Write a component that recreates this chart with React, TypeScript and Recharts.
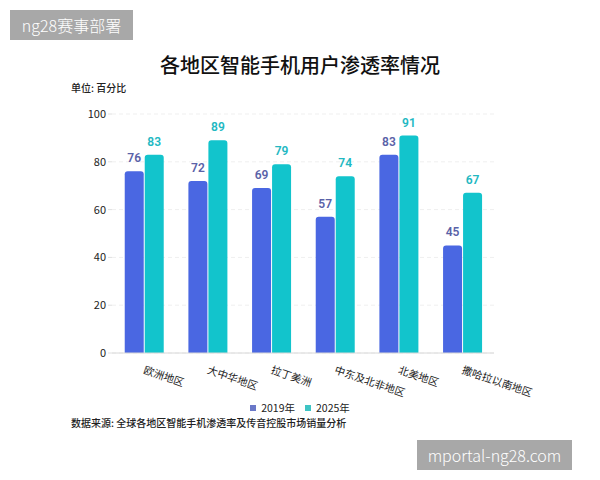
import React from 'react';
import { BarChart, Bar, XAxis, YAxis, CartesianGrid, LabelList } from 'recharts';

const regions = ['欧洲地区', '大中华地区', '拉丁美洲', '中东及北非地区', '北美地区', '撒哈拉以南地区'];
const values2019 = [76, 72, 69, 57, 83, 45];
const values2025 = [83, 89, 79, 74, 91, 67];
const yTicks = [0, 20, 40, 60, 80, 100];
const seriesNames = ['2019年', '2025年'];
const seriesColors = ['#4a67e2', '#12c4cc'];

const data = regions.map((name, i) => ({ name, y2019: values2019[i], y2025: values2025[i] }));

const FONT = '"Noto Sans CJK SC", "Noto Sans", sans-serif';

const AngledTick = (props: any) => {
  const { x, y, payload } = props;
  return (
    <g transform={`translate(${x - 1},${y + 12})`}>
      <text x={0} y={0} textAnchor="start" fontSize={10.5} fill="#222" transform="rotate(19)" fontFamily={FONT}>
        {payload.value}
      </text>
    </g>
  );
};

export default function App() {
  return (
    <div style={{ position: 'absolute', left: 0, top: 0, width: 600, height: 480, background: '#fff', fontFamily: FONT }}>
      <div style={{ position: 'absolute', left: 10, top: 10, width: 123, height: 30, background: '#a8a8a8', color: '#fff', fontSize: 16, fontWeight: 300, lineHeight: '30px', textAlign: 'center' }}>
        ng28赛事部署
      </div>
      <div style={{ position: 'absolute', left: 0, top: 50, width: 600, textAlign: 'center', fontSize: 20, fontWeight: 500, color: '#111' }}>
        各地区智能手机用户渗透率情况
      </div>
      <div style={{ position: 'absolute', left: 71, top: 80, fontSize: 10, fontWeight: 500, color: '#222' }}>单位: 百分比</div>
      <BarChart width={600} height={480} data={data} margin={{ top: 114, right: 106, bottom: 87, left: 0 }} barGap={1} barCategoryGap="20%">
        <CartesianGrid vertical={false} stroke="#efefef" strokeDasharray="4 3" />
        <XAxis dataKey="name" interval={0} height={40} tick={<AngledTick />} tickLine={false} axisLine={{ stroke: '#d8d8d8' }} />
        <YAxis domain={[0, 100]} ticks={yTicks} width={112} axisLine={false} tickLine={{ stroke: '#e0e0e0' }} tickSize={4} tick={{ fontSize: 11, fill: '#222', fontFamily: FONT }} />
        <Bar dataKey="y2019" name={seriesNames[0]} fill={seriesColors[0]} radius={[3, 3, 0, 0]} isAnimationActive={false}>
          <LabelList dataKey="y2019" position="top" offset={9} fill="#5a62a8" fontSize={12} fontWeight={600} fontFamily="Roboto, sans-serif" />
        </Bar>
        <Bar dataKey="y2025" name={seriesNames[1]} fill={seriesColors[1]} radius={[3, 3, 0, 0]} isAnimationActive={false}>
          <LabelList dataKey="y2025" position="top" offset={9} fill="#22b8c2" fontSize={12} fontWeight={600} fontFamily="Roboto, sans-serif" />
        </Bar>
      </BarChart>
      <div style={{ position: 'absolute', left: 0, top: 401, width: 600, height: 13, lineHeight: '13px', display: 'flex', justifyContent: 'center', gap: 10, fontSize: 10.5, color: '#222' }}>
        {seriesNames.map((n, i) => (
          <span key={n} style={{ display: 'flex', alignItems: 'center', lineHeight: '13px' }}>
            <span style={{ display: 'inline-block', width: 6, height: 6, background: i === 0 ? '#6a78c8' : '#3ec4c4', marginRight: 5 }} />
            {n}
          </span>
        ))}
      </div>
      <div style={{ position: 'absolute', left: 71, top: 416, height: 13, lineHeight: '13px', fontSize: 10, fontWeight: 500, color: '#222' }}>
        数据来源: 全球各地区智能手机渗透率及传音控股市场销量分析
      </div>
      <div style={{ position: 'absolute', left: 417, top: 440, width: 155, height: 30, background: '#a8a8a8', color: '#fff', fontSize: 16, fontWeight: 300, lineHeight: '30px', textAlign: 'center' }}>
        mportal-ng28.com
      </div>
    </div>
  );
}
